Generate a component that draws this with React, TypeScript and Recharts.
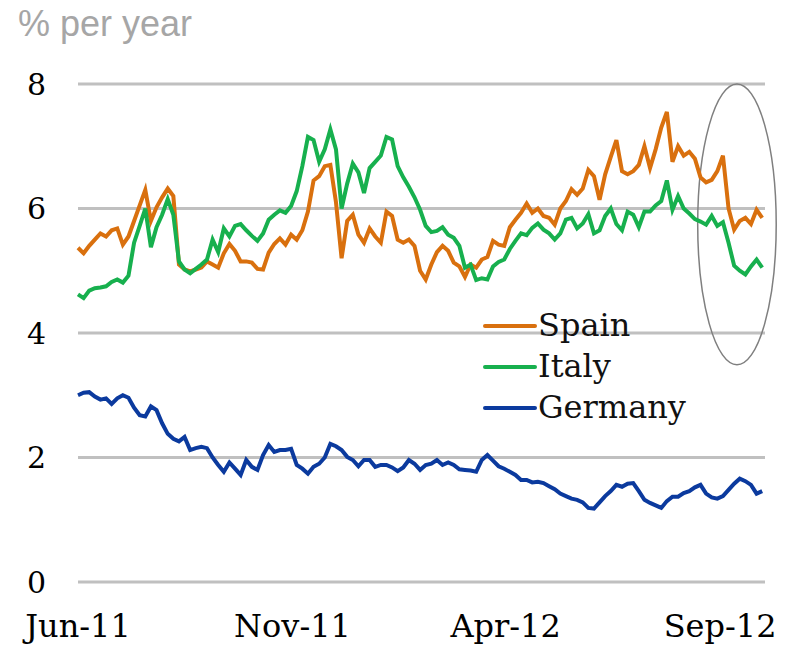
import { LineChart, Line, XAxis, YAxis, CartesianGrid, ReferenceArea } from 'recharts';

// sampled every 4 days from 1 Jun 2011
const dayStep = 4;

const spain = [
  5.37, 5.28, 5.40, 5.50, 5.60, 5.55, 5.65, 5.68, 5.42, 5.55,
  5.80, 6.05, 6.30, 5.80, 6.02, 6.18, 6.32, 6.20, 5.10, 5.02,
  4.99, 5.02, 5.05, 5.15, 5.10, 5.05, 5.28, 5.43, 5.32, 5.15,
  5.15, 5.13, 5.03, 5.02, 5.29, 5.43, 5.52, 5.42, 5.58, 5.50,
  5.65, 5.95, 6.45, 6.52, 6.68, 6.70, 6.10, 5.20, 5.80, 5.90,
  5.58, 5.45, 5.68, 5.55, 5.45, 5.95, 5.88, 5.50, 5.45, 5.50,
  5.40, 5.00, 4.86, 5.10, 5.30, 5.40, 5.32, 5.13, 5.07, 4.90,
  5.10, 5.05, 5.18, 5.22, 5.48, 5.42, 5.40, 5.70, 5.82, 5.93,
  6.08, 5.93, 6.00, 5.88, 5.85, 5.74, 6.00, 6.12, 6.31, 6.22,
  6.32, 6.62, 6.52, 6.14, 6.55, 6.83, 7.10, 6.60, 6.55, 6.60,
  6.70, 7.00, 6.65, 6.95, 7.30, 7.55, 6.75, 7.00, 6.85, 6.91,
  6.80, 6.50, 6.42, 6.46, 6.60, 6.85, 6.00, 5.66, 5.80, 5.85,
  5.75, 5.98, 5.85,
];

const italy = [
  4.62, 4.56, 4.68, 4.72, 4.73, 4.75, 4.82, 4.86, 4.81, 4.92,
  5.45, 5.72, 6.00, 5.38, 5.70, 5.90, 6.15, 5.90, 5.15, 5.02,
  4.96, 5.03, 5.10, 5.18, 5.50, 5.30, 5.68, 5.55, 5.72, 5.75,
  5.65, 5.56, 5.48, 5.60, 5.82, 5.90, 5.97, 5.93, 6.04, 6.28,
  6.68, 7.15, 7.10, 6.75, 6.95, 7.27, 6.95, 6.00, 6.40, 6.72,
  6.58, 6.25, 6.65, 6.75, 6.85, 7.15, 7.11, 6.68, 6.50, 6.35,
  6.18, 5.98, 5.72, 5.62, 5.64, 5.70, 5.58, 5.53, 5.40, 5.05,
  5.10, 4.85, 4.88, 4.86, 5.07, 5.14, 5.18, 5.35, 5.48, 5.60,
  5.57, 5.69, 5.76, 5.66, 5.60, 5.50, 5.60, 5.82, 5.85, 5.68,
  5.76, 5.91, 5.60, 5.65, 5.88, 6.00, 5.75, 5.65, 5.95, 5.90,
  5.70, 5.95, 5.95, 6.05, 6.12, 6.45, 5.98, 6.20, 6.00, 5.92,
  5.83, 5.79, 5.74, 5.88, 5.72, 5.78, 5.45, 5.08, 5.00, 4.94,
  5.07, 5.18, 5.05,
];

const germany = [
  3.00, 3.04, 3.05, 2.98, 2.93, 2.95, 2.86, 2.95, 3.00, 2.96,
  2.80, 2.68, 2.66, 2.82, 2.76, 2.55, 2.38, 2.30, 2.26, 2.33,
  2.12, 2.15, 2.17, 2.15, 2.00, 1.88, 1.77, 1.92, 1.82, 1.72,
  1.96, 1.85, 1.80, 2.04, 2.20, 2.09, 2.12, 2.12, 2.14, 1.88,
  1.82, 1.74, 1.85, 1.90, 2.00, 2.22, 2.18, 2.12, 2.01, 1.96,
  1.86, 1.96, 1.96, 1.85, 1.88, 1.88, 1.84, 1.78, 1.84, 1.96,
  1.90, 1.80, 1.88, 1.90, 1.96, 1.88, 1.92, 1.88, 1.81, 1.80,
  1.79, 1.77, 1.96, 2.04, 1.95, 1.86, 1.82, 1.77, 1.72, 1.64,
  1.64, 1.60, 1.61, 1.59, 1.54, 1.49, 1.42, 1.38, 1.34, 1.32,
  1.28, 1.19, 1.18, 1.28, 1.38, 1.46, 1.56, 1.53, 1.58, 1.59,
  1.46, 1.32, 1.27, 1.23, 1.19, 1.30, 1.37, 1.37, 1.43, 1.46,
  1.52, 1.56, 1.42, 1.36, 1.34, 1.38, 1.48, 1.58, 1.66, 1.62,
  1.56, 1.42, 1.46,
];

const tickDays = [0, 153, 305, 458];
const tickLabels = ['Jun-11', 'Nov-11', 'Apr-12', 'Sep-12'];
const yTicks = [0, 2, 4, 6, 8];

const series = [
  { key: 'spain', name: 'Spain', color: '#D9700E' },
  { key: 'italy', name: 'Italy', color: '#17B04E' },
  { key: 'germany', name: 'Germany', color: '#0B3A9E' },
];

const data = spain.map((v, i) => ({
  day: i * dayStep,
  spain: v,
  italy: italy[i],
  germany: germany[i],
}));

const labelFont = '"DejaVu Serif", serif';

const Ellipse = (props: any) => {
  const { x, y, width, height } = props;
  return (
    <ellipse
      cx={x + width / 2}
      cy={y + height / 2}
      rx={width / 2}
      ry={height / 2}
      fill="none"
      stroke="#7f7f7f"
      strokeWidth={1.5}
    />
  );
};

export default function App() {
  return (
    <div style={{ position: 'absolute', left: 0, top: 0, width: 787, height: 650, background: '#fff' }}>
      <div
        style={{
          position: 'absolute',
          left: 18,
          top: 6,
          fontFamily: '"Liberation Sans", Arial, sans-serif',
          fontSize: 36,
          lineHeight: '36px',
          color: '#a6a6a6',
          zIndex: 2,
        }}
      >
        % per year
      </div>
      <LineChart width={787} height={650} data={data} margin={{ top: 84, right: 22, bottom: 8, left: 0 }}>
        <CartesianGrid vertical={false} stroke="#c0c0c0" strokeWidth={3} />
        <XAxis
          dataKey="day"
          type="number"
          domain={[0, 490]}
          ticks={tickDays}
          tickFormatter={(d: number) => tickLabels[tickDays.indexOf(d)]}
          axisLine={false}
          tickLine={false}
          tickSize={0}
          tickMargin={32}
          height={60}
          interval={0}
          tick={{ fill: '#000', fontFamily: labelFont, fontSize: 32 }}
        />
        <YAxis
          type="number"
          domain={[0, 8]}
          ticks={yTicks}
          axisLine={false}
          tickLine={false}
          tickSize={0}
          tickMargin={32}
          width={78}
          tick={{ fill: '#000', fontFamily: labelFont, fontSize: 30 }}
        />
        <ReferenceArea x1={442} x2={498} y1={3.49} y2={8.0} ifOverflow="visible" shape={Ellipse} />
        {series.map((s) => (
          <Line
            key={s.key}
            type="linear"
            dataKey={s.key}
            name={s.name}
            stroke={s.color}
            strokeWidth={4}
            dot={false}
            isAnimationActive={false}
          />
        ))}
      </LineChart>
      <div style={{ position: 'absolute', left: 483, top: 305 }}>
        {series.map((s) => (
          <div key={s.key} style={{ display: 'flex', alignItems: 'center', height: 41 }}>
            <span style={{ display: 'inline-block', width: 54, height: 4, background: s.color, borderRadius: 2 }} />
            <span style={{ fontFamily: labelFont, fontSize: 32, color: '#111', lineHeight: '41px', marginLeft: 1 }}>
              {s.name}
            </span>
          </div>
        ))}
      </div>
    </div>
  );
}
